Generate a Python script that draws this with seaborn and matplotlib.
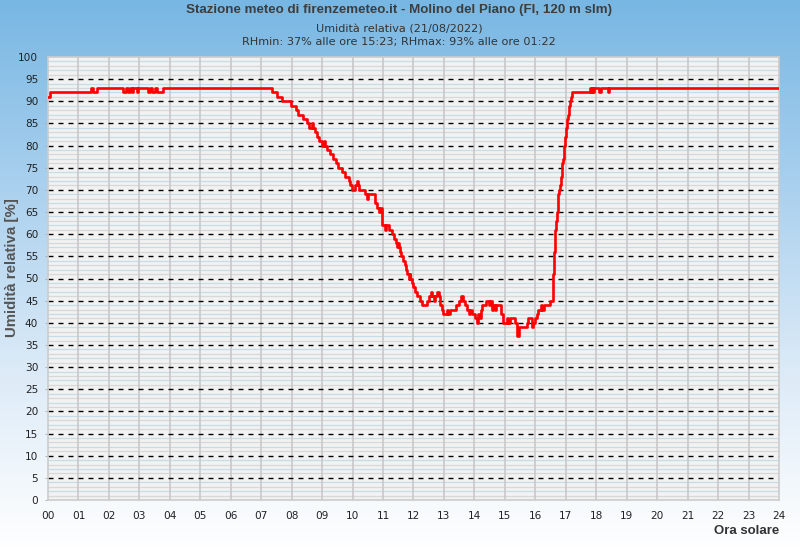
import numpy as np
import pandas as pd
import matplotlib
matplotlib.use("Agg")
import matplotlib.pyplot as plt
import seaborn as sns
from matplotlib.colors import LinearSegmentedColormap

# ---------------- data ----------------
title = "Stazione meteo di firenzemeteo.it - Molino del Piano (FI, 120 m slm)"
subtitle1 = "Umidità relativa (21/08/2022)"
subtitle2 = "RHmin: 37% alle ore 15:23; RHmax: 93% alle ore 01:22"
ylabel = "Umidità relativa [%]"
xlabel = "Ora solare"
x_ticklabels = [f"{h:02d}" for h in range(25)]
y_ticks = list(range(0, 101, 5))

# change points (hour, RH %) of the step series
ore = [0.00, 0.05, 1.41, 1.47, 1.60, 2.47, 2.56, 2.64, 2.69, 2.75, 2.80, 2.91, 2.97,
       3.29, 3.35, 3.40, 3.51, 3.57, 3.79, 7.36, 7.52, 7.68, 7.98, 8.14, 8.21, 8.37,
       8.49, 8.58, 8.66, 8.71, 8.77, 8.83, 8.90, 9.00, 9.05, 9.08, 9.16, 9.26, 9.36,
       9.45, 9.52, 9.65, 9.75, 9.88, 9.93, 9.98, 10.08, 10.14, 10.17, 10.21, 10.41,
       10.47, 10.52, 10.74, 10.80, 10.86, 10.90, 10.96, 11.06, 11.10, 11.20, 11.30,
       11.35, 11.42, 11.46, 11.50, 11.53, 11.55, 11.60, 11.67, 11.71, 11.75, 11.80,
       11.84, 11.87, 11.90, 11.95, 12.00, 12.04, 12.12, 12.20, 12.28, 12.45, 12.52,
       12.58, 12.62, 12.68, 12.72, 12.78, 12.83, 12.87, 12.92, 12.97, 13.10, 13.13,
       13.20, 13.40, 13.48, 13.55, 13.62, 13.70, 13.76, 13.82, 13.87, 13.93, 14.02,
       14.08, 14.12, 14.15, 14.20, 14.26, 14.38, 14.48, 14.52, 14.58, 14.62, 14.66,
       14.72, 14.88, 14.95, 15.06, 15.10, 15.18, 15.33, 15.39, 15.48, 15.72, 15.77,
       15.88, 15.93, 15.98, 16.04, 16.10, 16.18, 16.22, 16.28, 16.48, 16.59, 16.62,
       16.64, 16.67, 16.70, 16.73, 16.75, 16.78, 16.81, 16.84, 16.86, 16.89, 16.92,
       16.94, 16.97, 17.00, 17.03, 17.07, 17.10, 17.13, 17.16, 17.19, 17.79, 17.82,
       17.85, 17.88, 17.92, 18.10, 18.14, 18.38, 18.42, 24.00]
rh = [91, 92, 93, 92, 93, 92, 93, 92, 93, 92, 93, 92, 93,
      92, 93, 92, 93, 92, 93, 92, 91, 90, 89, 88, 87, 86,
      85, 84, 85, 84, 83, 82, 81, 80, 81, 80, 79, 78, 77,
      76, 75, 74, 73, 72, 71, 70, 71, 72, 71, 70, 69,
      68, 69, 67, 66, 65, 66, 62, 61, 62, 61, 60,
      59, 58, 57, 58, 57, 56, 55, 54, 53, 52, 51,
      50, 51, 50, 49, 48, 47, 46, 45, 44, 45, 46,
      47, 46, 45, 46, 47, 46, 44, 43, 42, 43, 42,
      43, 44, 45, 46, 45, 44, 43, 42, 43, 42, 41,
      40, 42, 41, 43, 44, 45, 44, 45, 43, 44, 43,
      44, 42, 40, 41, 40, 41, 40, 37, 39, 40, 41,
      39, 40, 41, 42, 43, 44, 43, 44, 45, 51, 56,
      61, 63, 65, 67, 69, 70, 71, 73, 74, 76, 77,
      80, 82, 84, 86, 87, 89, 90, 91, 92, 93, 92,
      93, 92, 93, 92, 93, 92, 93, 93]

df = pd.DataFrame({"ora": ore, "rh": rh})

# ---------------- figure ----------------
W, H = 800, 550
fig = plt.figure(figsize=(W / 100, H / 100), dpi=100)

# gradient background
bg = fig.add_axes([0, 0, 1, 1], zorder=-10)
cmap = LinearSegmentedColormap.from_list("bgc", ["#78b7e3", "#a9d0ee", "#dbeaf7", "#ffffff"])
grad = np.linspace(0, 1, 256).reshape(-1, 1)
bg.imshow(grad, aspect="auto", cmap=cmap, extent=[0, 1, 0, 1], origin="upper")
bg.set_axis_off()

left, right, top, bottom = 48, 779, 57, 500
ax = fig.add_axes([left / W, (H - bottom) / H, (right - left) / W, (bottom - top) / H])
ax.set_facecolor("#f2f2f2")

# minor horizontal grid every 1 %
for v in range(1, 100):
    if v % 5 == 0:
        continue
    col = "#c4dde9" if v % 5 in (2, 4) else "#d8d8d8"
    ax.axhline(v, color=col, lw=0.9, zorder=1)
# hour gridlines
for h in range(1, 24):
    ax.axvline(h, color="#c8c8c8", lw=1.2, zorder=1.5)
# major dashed lines
for v in range(5, 100, 5):
    ax.axhline(v, color="black", lw=1.0, ls=(0, (3.6, 3.6)), zorder=2)

sns.lineplot(data=df, x="ora", y="rh", ax=ax, drawstyle="steps-post",
             estimator=None, sort=False, color="#ff0000", lw=1.9, zorder=5)

ax.set_xlim(0, 24)
ax.set_ylim(0, 100)
ax.set_xticks(range(25))
ax.set_xticklabels(x_ticklabels)
ax.set_yticks(y_ticks)
ax.set_yticklabels([str(v) for v in y_ticks])
ax.tick_params(axis="both", labelsize=7.6, colors="#222222", length=2, width=0.6)
ax.tick_params(axis="x", length=0, pad=8)
ax.tick_params(axis="y", color="#aaaaaa", pad=5)
ax.set_xlabel("")
ax.set_ylabel("")
for s in ax.spines.values():
    s.set_color("#cccccc")
    s.set_linewidth(1.2)

cond = ["Liberation Sans", "DejaVu Sans"]
fig.text(399 / W, 1 - 10 / H, title, ha="center", va="center", fontsize=9.6,
         fontweight="bold", color="#3d3d3d", family=cond)
fig.text(399 / W, 1 - 30 / H, subtitle1, ha="center", va="center", fontsize=8.1,
         color="#333333")
fig.text(399 / W, 1 - 42 / H, subtitle2, ha="center", va="center", fontsize=8.1,
         color="#333333")
fig.text(12 / W, 1 - 268 / H, ylabel, ha="center", va="center", rotation=90,
         fontsize=10.8, fontweight="bold", color="#555555", family=cond)
fig.text(779 / W, 1 - 531 / H, xlabel, ha="right", va="center", fontsize=9.5,
         fontweight="bold", color="#333333", family=cond)

fig.savefig("out.png", dpi=100)
